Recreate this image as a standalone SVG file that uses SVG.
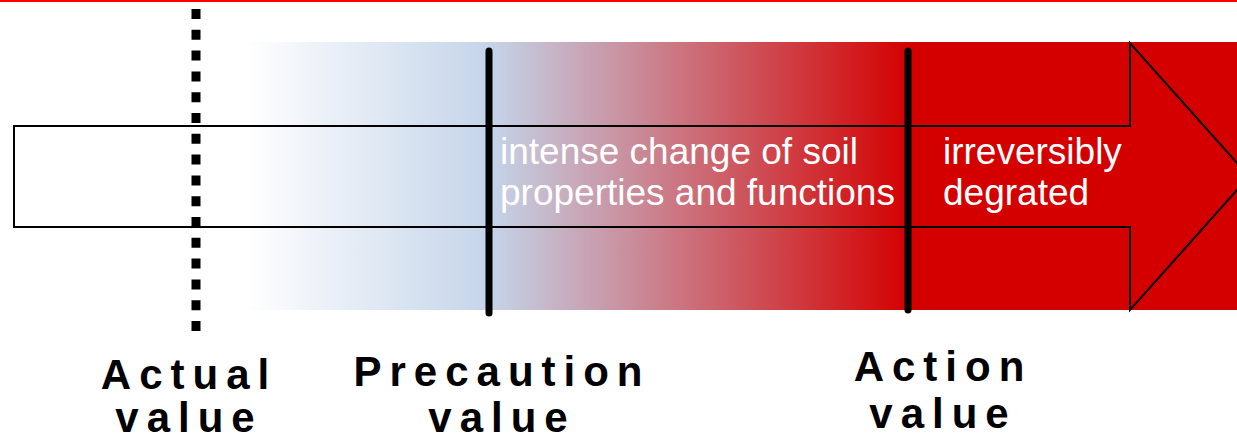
<svg xmlns="http://www.w3.org/2000/svg" width="1237" height="442" viewBox="0 0 1237 442">
<style>
.lbl{font-family:"Liberation Sans",Arial,sans-serif;font-weight:bold;font-size:42px;letter-spacing:8px;fill:#000;text-anchor:middle}
.inner{font-family:"Liberation Sans",Arial,sans-serif;font-size:37px;fill:#fff}
.thr{stroke:#000;stroke-width:7;stroke-linecap:round;fill:none}
</style>
<defs>
<linearGradient id="g" gradientUnits="userSpaceOnUse" x1="245" y1="0" x2="910" y2="0">
<stop offset="0" stop-color="#ffffff"/>
<stop offset="0.37" stop-color="#c4d4e9"/>
<stop offset="1" stop-color="#d40000"/>
</linearGradient>
</defs>
<rect x="0" y="0" width="1237" height="442" fill="#fff"/>
<rect id="topline" x="0" y="0" width="1237" height="2" fill="#ff0000"/>
<g id="band">
<rect x="240" y="42" width="997" height="268" fill="url(#g)"/>
</g>
<g id="arrow">
<polygon points="14,126 1130,126 1130,43 1249,176.5 1130,310 1130,227 14,227" fill="none" stroke="#000" stroke-width="2"/>
</g>
<g id="connectors">
<line id="actual-line" x1="196" y1="9" x2="196" y2="331" stroke="#000" stroke-width="9" stroke-dasharray="10 10.8"/>
<line id="precaution-line" class="thr" x1="489" y1="51" x2="489" y2="313"/>
<line id="action-line" class="thr" x1="908" y1="51" x2="908" y2="310"/>
</g>
<g id="zone-intense">
<text class="inner" x="500" y="164">intense change of soil</text>
<text class="inner" x="500" y="205">properties and functions</text>
</g>
<g id="zone-irreversible">
<text class="inner" x="943" y="164">irreversibly</text>
<text class="inner" x="943" y="205">degrated</text>
</g>
<g id="label-actual">
<text class="lbl" x="189" y="389">Actual</text>
<text class="lbl" x="189" y="432">value</text>
</g>
<g id="label-precaution">
<text class="lbl" x="502" y="386">Precaution</text>
<text class="lbl" x="502" y="432">value</text>
</g>
<g id="label-action">
<text class="lbl" x="943" y="381">Action</text>
<text class="lbl" x="943" y="428">value</text>
</g>
</svg>
